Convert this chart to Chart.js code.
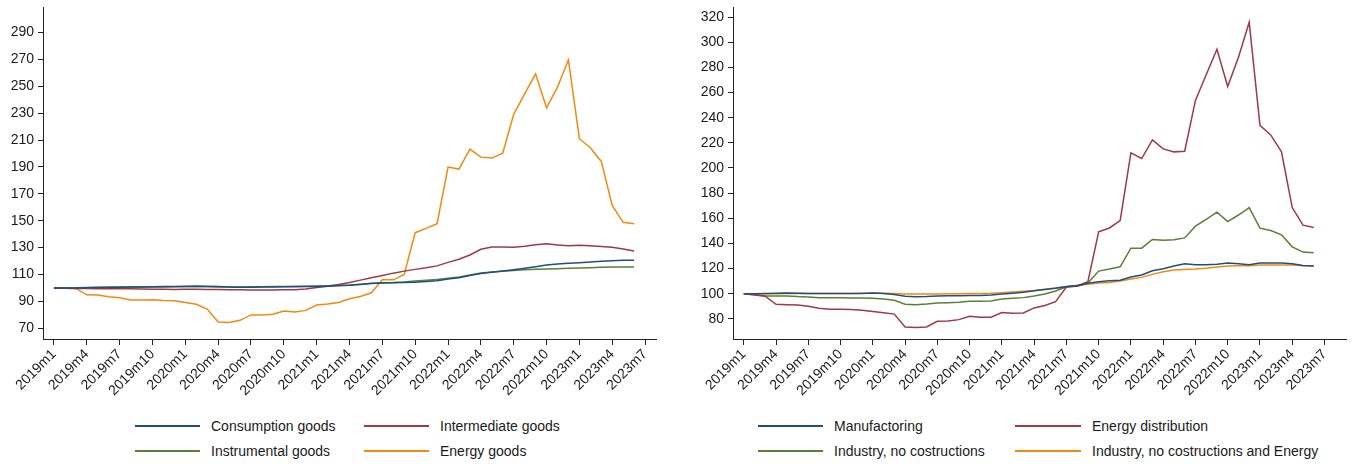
<!DOCTYPE html>
<html>
<head>
<meta charset="utf-8">
<script src="https://cdn.jsdelivr.net/npm/chart.js@4.4.1/dist/chart.umd.min.js"></script>
<style>
  html, body { margin: 0; padding: 0; background: #fff; }
  #wrap { position: relative; width: 1355px; height: 464px; overflow: hidden; font-family: "Liberation Sans", Arial, sans-serif; }
  canvas { position: absolute; top: 0; }
  .lg { position: absolute; height: 20px; display: flex; align-items: center; font-size: 14px; color: #1a1a1a; white-space: nowrap; }
  .lg i { display: inline-block; height: 2px; }
</style>
</head>
<body>
<div id="wrap">
  <canvas id="c1" width="677" height="400" style="left:0"></canvas>
  <canvas id="c2" width="678" height="400" style="left:677px"></canvas>
  <div id="leg"></div>
</div>
<script>
// Categories (monthly), including the last tick month without data
const months = [];
for (let y = 2019; y <= 2023; y++) for (let m = 1; m <= 12; m++) { if (y === 2023 && m > 7) break; months.push(y + 'm' + m); }
const xTickLabels = ['2019m1','2019m4','2019m7','2019m10','2020m1','2020m4','2020m7','2020m10','2021m1','2021m4','2021m7','2021m10','2022m1','2022m4','2022m7','2022m10','2023m1','2023m4','2023m7'];

const yTicksLeft = [70, 90, 110, 130, 150, 170, 190, 210, 230, 250, 270, 290];
const yTicksRight = [80, 100, 120, 140, 160, 180, 200, 220, 240, 260, 280, 300, 320];

// Left panel series
const consumptionGoods = [100,99.9,100,100.2,100.3,100.4,100.5,100.6,100.7,100.8,101,101.1,101.3,101.4,101.3,101,100.7,100.5,100.5,100.6,100.7,100.8,100.9,101,101.1,101.3,101.6,102,102.6,103.2,103.6,103.8,104,104.3,104.7,105.3,106.6,107.6,109.2,110.8,111.7,112.6,113.6,114.6,115.8,117,117.8,118.3,118.8,119.3,119.8,120.3,120.5,120.6];
const intermediateGoods = [100,99.8,99.6,99.5,99.4,99.4,99.3,99.3,99.2,99.1,99,98.9,99,99,98.9,98.8,98.7,98.6,98.5,98.5,98.5,98.6,98.7,99.2,100.4,101.3,102.6,104,105.8,107.5,109.2,111,112.5,113.8,115,116.4,119,121.3,124.5,128.8,130.4,130.5,130.3,131,132.2,132.8,132,131.3,131.8,131.3,130.8,130.3,128.9,127.5];
const instrumentalGoods = [100,100,100.2,100.4,100.5,100.6,100.6,100.7,100.7,100.7,100.7,100.8,100.8,100.8,100.8,100.7,100.7,100.7,100.8,100.9,101,101.1,101.2,101.3,101.4,101.6,101.9,102.2,102.8,103.4,103.8,104,104.4,105.2,105.8,106.2,107.2,108.1,109.6,111.1,111.8,112.4,113,113.6,113.9,114.1,114.3,114.6,114.9,115.1,115.4,115.6,115.6,115.6];
const energyGoods = [100,99.8,99.6,94.9,94.7,93.4,92.7,91,91,91.2,90.7,90.5,89.2,87.8,84.3,74.7,74.2,75.9,79.9,79.9,80.4,82.8,82.1,83.3,87.3,88,89.2,91.9,93.6,96.4,106,106,110,141.1,144.3,147.8,189.9,188.4,203.3,197.3,196.6,200.3,229.1,244.4,259.3,234,249.4,269.7,211,204.3,194.1,161.4,148.8,147.8];

// Right panel series
const manufactoring = [100,100,100.2,100.4,100.6,100.4,100.2,100.1,100.1,100.1,100.2,100.2,100.6,100.2,99.3,98,97.6,97.8,98.2,98.3,98.4,98.5,98.6,99,99.7,100.4,101.2,102.3,103.3,104.4,105.8,106.4,108.3,109.6,110.4,110.7,113.3,114.9,118.3,119.9,122,123.8,123,123,123.5,124.4,123.8,123,124.4,124.4,124.4,123.8,122.5,122];
const energyDistribution = [100,99,98,91.6,91.3,91.1,90,88.4,87.6,87.6,87.4,86.9,85.8,84.8,83.8,73.6,73.1,73.6,78.1,78.4,79.4,82.1,81.3,81.3,85,84.5,84.7,88.7,90.6,93.7,105.3,106.2,109.6,149.2,152.3,158.2,212,207.5,222.3,215.2,212.8,213.3,253.7,274.1,294.4,264.8,288.1,315.8,233.9,226.3,212.8,168.5,154.5,152.6];
const industryNoConstr = [100,99.3,98.2,98.2,98.2,97.7,97.4,96.9,96.9,96.9,96.6,96.6,96.4,95.8,94.8,91.6,91.3,91.9,92.7,92.9,93.2,94,94,94.2,95.8,96.4,96.9,98.2,99.8,102.2,105.6,105.9,108.5,118,119.6,121.4,136.2,136.2,143.1,142.6,142.9,144.4,153.7,159.2,164.8,157.4,162.6,168.5,152.1,150.3,146.8,137.3,133.1,132.6];
const industryNoConstrEnergy = [100,100,100,100,100.1,100.1,100.1,100.1,100.2,100.2,100.2,100.3,100.5,100.4,100.2,99.8,99.7,99.7,99.8,99.9,100,100.1,100.2,100.4,100.8,101.3,101.9,102.6,103.5,104.5,105.6,106.8,107.5,108.5,109,110.1,111.7,113,115.4,117.5,118.8,119.3,119.6,120.2,121.2,122,122.2,122.2,122.8,122.8,122.8,122.8,122.2,122];

const C_BLUE = '#1e4f80', C_RED = '#9c3a48', C_GREEN = '#5b7f36', C_ORANGE = '#ef8a10';

function pts(arr) { return arr.map((v, i) => ({ x: i, y: v })); }
function ds(label, arr, color) {
  return { label, data: pts(arr), borderColor: color, backgroundColor: color, borderWidth: 1.5, pointRadius: 0, tension: 0, fill: false };
}

function makeChart(id, datasets, yTicks, yMin, yMax, xMax, yWidth, padRight) {
  return new Chart(document.getElementById(id), {
    type: 'line',
    data: { datasets },
    options: {
      responsive: false,
      animation: false,
      events: [],
      layout: { padding: { top: 7, right: padRight, left: 0, bottom: 0 } },
      plugins: { legend: { display: false }, tooltip: { enabled: false } },
      scales: {
        x: {
          type: 'linear', min: -1, max: xMax,
          border: { display: true, color: '#222', width: 1 },
          grid: { drawOnChartArea: false, drawTicks: true, tickLength: 6, color: '#222' },
          afterBuildTicks: s => { s.ticks = xTickLabels.map(l => ({ value: months.indexOf(l) })); },
          afterFit: s => { s.height = 61; s.paddingLeft = 0; s.paddingRight = 0; },
          ticks: {
            autoSkip: false, maxRotation: 45, minRotation: 45, padding: 1,
            color: '#1a1a1a', font: { family: 'Liberation Sans', size: 14 },
            callback: v => months[v]
          }
        },
        y: {
          min: yMin, max: yMax,
          border: { display: true, color: '#222', width: 1 },
          grid: { drawOnChartArea: false, drawTicks: true, tickLength: 5, color: '#222' },
          afterBuildTicks: s => { s.ticks = yTicks.map(v => ({ value: v })); },
          afterFit: s => { s.width = yWidth; s.paddingTop = 0; s.paddingBottom = 0; },
          ticks: { padding: 4, color: '#1a1a1a', font: { family: 'Liberation Sans', size: 14 }, callback: v => String(v) }
        }
      }
    }
  });
}

makeChart('c1', [
  ds('Consumption goods', consumptionGoods, C_BLUE),
  ds('Intermediate goods', intermediateGoods, C_RED),
  ds('Instrumental goods', instrumentalGoods, C_GREEN),
  ds('Energy goods', energyGoods, C_ORANGE)
], yTicksLeft, 62, 309, 55, 43, 21);

makeChart('c2', [
  ds('Manufactoring', manufactoring, C_BLUE),
  ds('Energy distribution', energyDistribution, C_RED),
  ds('Industry, no costructions', industryNoConstr, C_GREEN),
  ds('Industry, no costructions and Energy', industryNoConstrEnergy, C_ORANGE)
], yTicksRight, 64, 328, 56, 56, 9);

// HTML legends
const legends = [
  { x: 135, y: 416, w: 65, gap: 11, label: 'Consumption goods', color: C_BLUE },
  { x: 364, y: 416, w: 65, gap: 11, label: 'Intermediate goods', color: C_RED },
  { x: 135, y: 441, w: 65, gap: 11, label: 'Instrumental goods', color: C_GREEN },
  { x: 364, y: 441, w: 65, gap: 11, label: 'Energy goods', color: C_ORANGE },
  { x: 758, y: 416, w: 65, gap: 11, label: 'Manufactoring', color: C_BLUE },
  { x: 1015, y: 416, w: 66, gap: 11, label: 'Energy distribution', color: C_RED },
  { x: 758, y: 441, w: 65, gap: 11, label: 'Industry, no costructions', color: C_GREEN },
  { x: 1015, y: 441, w: 66, gap: 11, label: 'Industry, no costructions and Energy', color: C_ORANGE }
];
const leg = document.getElementById('leg');
legends.forEach(l => {
  const d = document.createElement('div');
  d.className = 'lg';
  d.style.left = l.x + 'px'; d.style.top = l.y + 'px';
  const i = document.createElement('i');
  i.style.width = l.w + 'px'; i.style.background = l.color; i.style.marginRight = l.gap + 'px';
  d.appendChild(i);
  d.appendChild(document.createTextNode(l.label));
  leg.appendChild(d);
});
</script>
</body>
</html>
